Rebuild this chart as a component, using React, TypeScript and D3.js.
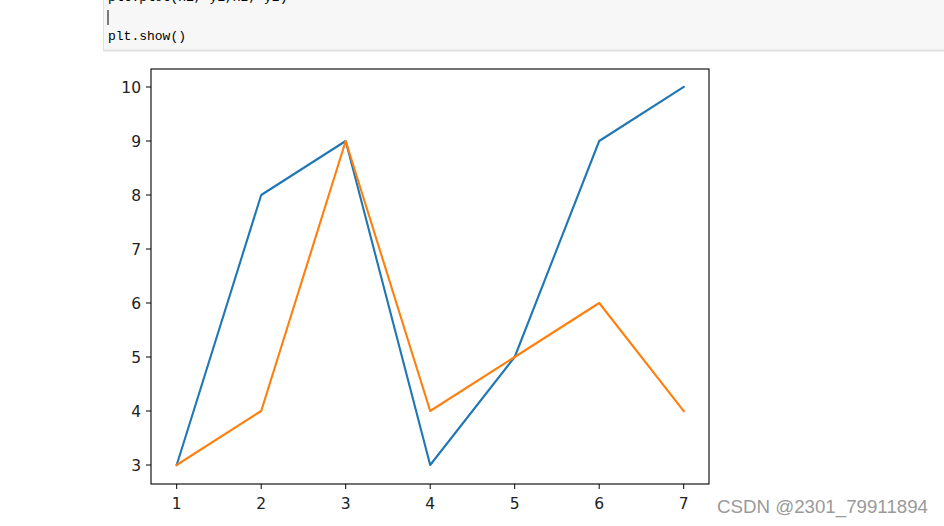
import React, { useRef, useEffect } from 'react';
import * as d3 from 'd3';

const xValues = [1, 2, 3, 4, 5, 6, 7];
const y1Values = [3, 8, 9, 3, 5, 9, 10];
const y2Values = [3, 4, 9, 4, 5, 6, 4];
const xTicks = [1, 2, 3, 4, 5, 6, 7];
const yTicks = [3, 4, 5, 6, 7, 8, 9, 10];

const W = 944;
const H = 526;

const App: React.FC = () => {
  const ref = useRef<SVGSVGElement | null>(null);

  useEffect(() => {
    if (!ref.current) return;
    const svg = d3.select(ref.current);
    svg.selectAll('*').remove();

    // Notebook code cell (cut at the top)
    const cell = svg.append('g');
    cell.append('rect')
      .attr('x', 103.5).attr('y', -5).attr('width', W).attr('height', 55.5)
      .attr('fill', '#f7f7f7').attr('stroke', '#e0e0e0').attr('stroke-width', 1);
    cell.append('line')
      .attr('x1', 103).attr('x2', W).attr('y1', 50.5).attr('y2', 50.5)
      .attr('stroke', '#e0e0e0').attr('stroke-width', 2);
    const mono = '"Liberation Mono", "DejaVu Sans Mono", monospace';
    cell.append('text')
      .attr('x', 108).attr('y', 1)
      .attr('font-family', mono).attr('font-size', 13).attr('fill', '#000')
      .text('plt.plot(x1, y1,x2, y2)');
    cell.append('line')
      .attr('x1', 108).attr('x2', 108).attr('y1', 10).attr('y2', 25)
      .attr('stroke', '#000').attr('stroke-width', 1);
    cell.append('text')
      .attr('x', 108).attr('y', 40)
      .attr('font-family', mono).attr('font-size', 13).attr('fill', '#000')
      .text('plt.show()');

    // Axes
    const left = 151, right = 709, top = 69, bottom = 484;
    const x = d3.scaleLinear().domain([1, 7]).range([176.7, 683.7]);
    const y = d3.scaleLinear().domain([3, 10]).range([465, 87]);

    const font = '"DejaVu Sans", sans-serif';

    const line = d3.line<number>()
      .x((_, i) => x(xValues[i]))
      .y(d => y(d));

    svg.append('path')
      .attr('d', line(y1Values) as string)
      .attr('fill', 'none').attr('stroke', '#1f77b4').attr('stroke-width', 2.1)
      .attr('stroke-linejoin', 'round').attr('stroke-linecap', 'square');
    svg.append('path')
      .attr('d', line(y2Values) as string)
      .attr('fill', 'none').attr('stroke', '#ff7f0e').attr('stroke-width', 2.1)
      .attr('stroke-linejoin', 'round').attr('stroke-linecap', 'square');

    svg.append('rect')
      .attr('x', left).attr('y', top)
      .attr('width', right - left).attr('height', bottom - top)
      .attr('fill', 'none').attr('stroke', '#000').attr('stroke-width', 1.1);

    const xt = svg.append('g');
    xTicks.forEach(t => {
      xt.append('line')
        .attr('x1', x(t)).attr('x2', x(t)).attr('y1', bottom).attr('y2', bottom + 5)
        .attr('stroke', '#000').attr('stroke-width', 1);
      xt.append('text')
        .attr('x', x(t)).attr('y', 508.5)
        .attr('text-anchor', 'middle')
        .attr('font-family', font).attr('font-size', 15.5).attr('fill', '#222')
        .text(t);
    });

    const yt = svg.append('g');
    yTicks.forEach(t => {
      yt.append('line')
        .attr('x1', left - 5).attr('x2', left).attr('y1', y(t)).attr('y2', y(t))
        .attr('stroke', '#000').attr('stroke-width', 1);
      yt.append('text')
        .attr('x', 141).attr('y', y(t) + 5.8)
        .attr('text-anchor', 'end')
        .attr('font-family', font).attr('font-size', 15.5).attr('fill', '#222')
        .text(t);
    });

    // Watermark
    svg.append('text')
      .attr('x', 717).attr('y', 513)
      .attr('font-family', '"Liberation Sans", Arial, sans-serif')
      .attr('font-size', 18).attr('fill', '#9a9a9a')
      .attr('textLength', 211).attr('lengthAdjust', 'spacingAndGlyphs')
      .text('CSDN @2301_79911894');
  }, []);

  return (
    <div style={{ position: 'absolute', left: 0, top: 0, width: W, height: H, background: '#fff' }}>
      <svg ref={ref} width={W} height={H} viewBox={`0 0 ${W} ${H}`} style={{ display: 'block' }} />
    </div>
  );
};

export default App;
